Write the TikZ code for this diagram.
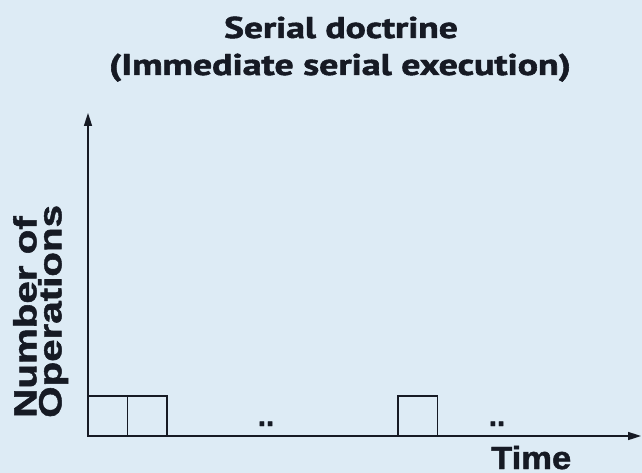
\documentclass[tikz,border=0pt]{standalone}
\usepackage{fontspec}
\setmainfont{Liberation Sans}
\newfontfamily\titlefont[FakeBold=1.6]{PT Sans Bold}
\newfontfamily\heavyfont[FakeBold=1.4]{Liberation Sans Bold}
\usetikzlibrary{arrows.meta}
\definecolor{bgblue}{RGB}{221,235,245}
\definecolor{ink}{RGB}{22,26,36}
\tikzset{
  axis/.style={draw=ink, line width=1.6pt, -{Triangle[length=13pt,width=8pt]}},
  opbox/.style={draw=ink, line width=1.6pt, minimum width=39.5pt, minimum height=40pt, inner sep=0pt, outer sep=0pt, anchor=south west},
  ttl/.style={inner sep=0pt, anchor=base, text=ink, font=\titlefont\fontsize{30}{36}\selectfont},
  lbl/.style={inner sep=0pt, text=ink, font=\heavyfont\fontsize{32}{34}\selectfont},
  gap/.style={inner sep=0pt, anchor=base, text=ink, font=\heavyfont\fontsize{29}{30}\selectfont},
}
\begin{document}
\begin{tikzpicture}[x=1pt,y=-1pt]
  \fill[bgblue] (0,0) rectangle (642,473);
  \useasboundingbox (0,0) rectangle (642,473);

  % title
  \node[ttl] (t1) at (341,38) {\scalebox{1.25}[1]{Serial doctrine}};
  \node[ttl] (t2) at (340,75) {\scalebox{1.26}[1]{(Immediate serial execution)}};

  % axes
  \coordinate (o) at (88,436);
  \coordinate (ytop) at (88,113);
  \coordinate (xend) at (641,436);
  \draw[axis] (o) -- (ytop);
  \draw[axis] (o) -- (xend);

  % operations
  \node[opbox] (b1) at (88,436) {};
  \node[opbox] (b2) at (b1.south east) {};
  \node[opbox] (b3) at (398,436) {};

  % gaps along the time line
  \node[gap] (d1) at (266,426) {..};
  \node[gap] (d2) at (497,426) {..};

  % axis labels
  \node[lbl, anchor=base west] (time) at (491,469) {\scalebox{1.08}[1]{Time}};
  \node[lbl, anchor=north west, rotate=90, align=left] (ops) at (13,418)
    {\scalebox{1.26}[1]{Number of}\\[-9pt]\scalebox{1.26}[1]{Operations}};
\end{tikzpicture}
\end{document}
